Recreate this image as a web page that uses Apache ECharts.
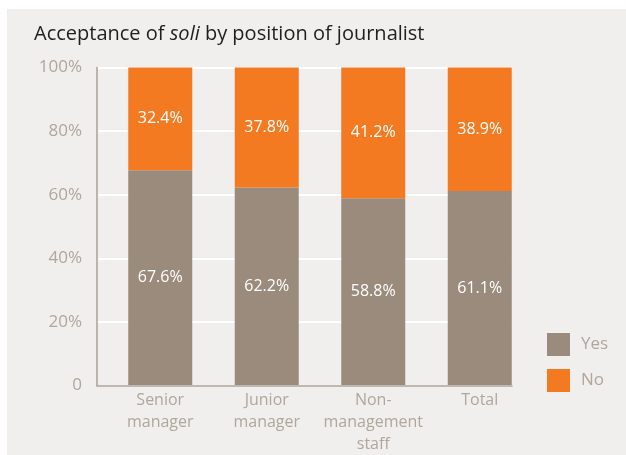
<!DOCTYPE html>
<html>
<head>
<meta charset="utf-8">
<script src="https://cdn.jsdelivr.net/npm/echarts@6/dist/echarts.min.js"></script>
<style>
  html, body { margin: 0; padding: 0; background: #ffffff; }
  #chart {
    width: 626px; height: 455px;
    background: linear-gradient(#f0efed, #f0efed) 7px 9px / 619px 446px no-repeat, #ffffff;
  }
</style>
</head>
<body>
<div id="chart"></div>
<script>
// Share of journalists accepting soli, by position (percent)
const categories = ['Senior\nmanager', 'Junior\nmanager', 'Non-\nmanagement\nstaff', 'Total'];
const yesValues = [67.6, 62.2, 58.8, 61.1];
const noValues = [32.4, 37.8, 41.2, 38.9];
const seriesNames = ['Yes', 'No'];
const yMin = 0, yMax = 100, yStep = 20;

const greyText = '#b1a69b';
const axisColor = '#aaa096';
const yesColor = '#9a8b7d';
const noColor = '#f47a22';
const font = '"Open Sans", sans-serif';

const chart = echarts.init(document.getElementById('chart'), null, { renderer: 'canvas' });

const valueLabel = {
  show: true,
  position: 'inside',
  color: '#ffffff',
  fontFamily: font,
  fontSize: 16,
  formatter: p => p.value.toFixed(1) + '%'
};

chart.setOption({
  backgroundColor: 'transparent',
  animation: false,
  title: {
    left: 29, top: 19,
    text: '{a|Acceptance of }{b|soli}{a| by position of journalist}',
    textStyle: {
      fontWeight: 'normal',
      rich: {
        a: { fontFamily: font, fontSize: 20, fontWeight: 'normal', color: '#1f1f1f' },
        b: { fontFamily: font, fontSize: 20, fontWeight: 'normal', color: '#1f1f1f', fontStyle: 'italic' }
      }
    }
  },
  legend: {
    data: seriesNames,
    orient: 'vertical',
    left: 542, top: 328,
    icon: 'rect',
    itemWidth: 23, itemHeight: 23, itemGap: 13,
    textStyle: { color: greyText, fontFamily: font, fontSize: 17, padding: [0, 0, 0, 6] }
  },
  grid: [
    // bars
    { left: 107, right: 93, top: 67.5, bottom: 69.5 },
    // frame: axis lines, gridlines and percentage ticks
    { left: 97, right: 114, top: 67.5, bottom: 69.5 }
  ],
  xAxis: [
    {
      gridIndex: 0, type: 'category', data: categories,
      axisLine: { show: false }, axisTick: { show: false },
      axisLabel: { interval: 0, color: greyText, fontFamily: font, fontSize: 16, lineHeight: 22, margin: 4 }
    },
    {
      gridIndex: 1, type: 'value', min: 0, max: 1,
      axisLine: { show: true, lineStyle: { color: axisColor, width: 1.5 } },
      axisTick: { show: false }, axisLabel: { show: false }, splitLine: { show: false }
    }
  ],
  yAxis: [
    { gridIndex: 0, type: 'value', min: yMin, max: yMax, show: false },
    {
      gridIndex: 1, type: 'value', min: yMin, max: yMax, interval: yStep,
      axisLine: { show: true, lineStyle: { color: axisColor, width: 1.5 } },
      axisTick: { show: false },
      axisLabel: {
        color: greyText, fontFamily: font, fontSize: 17, margin: 15,
        formatter: v => (v === 0 ? '0' : v + '%')
      },
      splitLine: { show: true, lineStyle: { color: '#ffffff', width: 2 } }
    }
  ],
  series: [
    {
      name: seriesNames[0], type: 'bar', stack: 'total',
      xAxisIndex: 0, yAxisIndex: 0, barWidth: 64,
      itemStyle: { color: yesColor }, label: valueLabel, data: yesValues
    },
    {
      name: seriesNames[1], type: 'bar', stack: 'total',
      xAxisIndex: 0, yAxisIndex: 0, barWidth: 64,
      itemStyle: { color: noColor }, label: valueLabel, data: noValues
    }
  ]
});
</script>
</body>
</html>
